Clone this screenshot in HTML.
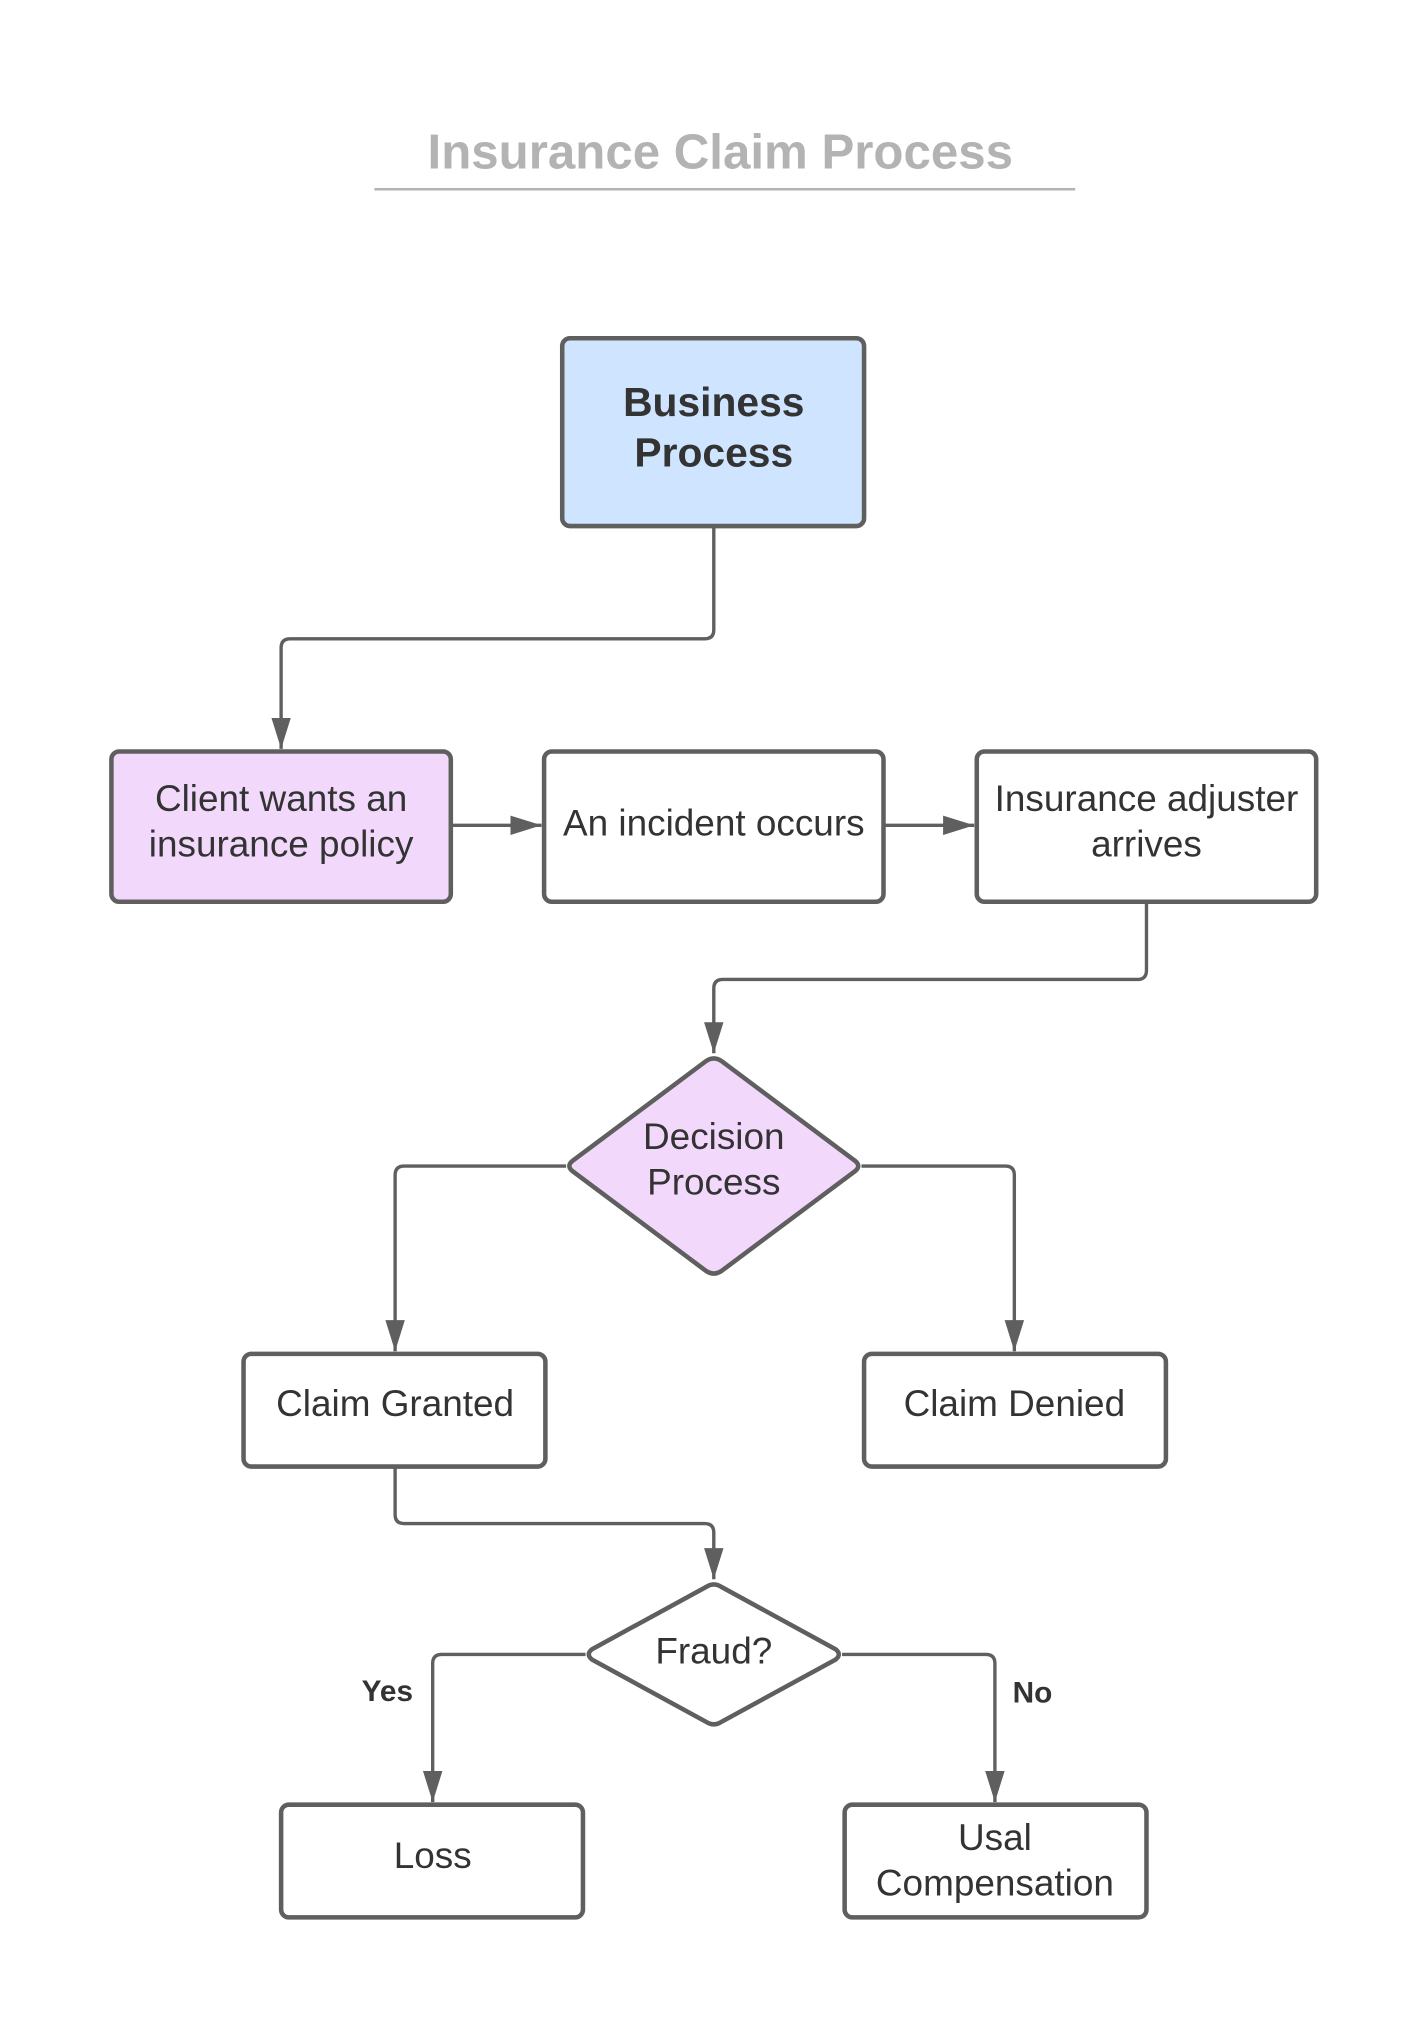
<!DOCTYPE html>
<html><head><meta charset="utf-8"><style>html,body{margin:0;padding:0;background:#fff}svg{display:block}</style></head>
<body>
<svg width="1425" height="2025" viewBox="0 0 1100 1563" xmlns="http://www.w3.org/2000/svg" font-family="Liberation Sans, sans-serif">
<defs>
<marker id="b" viewBox="0 0 10 10" refX="10" refY="5" markerWidth="24" markerHeight="15" orient="auto" markerUnits="userSpaceOnUse" preserveAspectRatio="none"><path d="M0,0L10,5L0,10z" fill="#5f5f5f"/></marker></defs>
<rect width="1100" height="1563" fill="#fff"/>
<text x="556" y="130" text-anchor="middle" font-size="38" font-weight="bold" fill="#b3b3b3">Insurance Claim Process</text>
<line x1="289" y1="146" x2="830" y2="146" stroke="#b3b3b3" stroke-width="2"/>
<g fill="none" stroke="#5f5f5f" stroke-width="2.6">
<path d="M551,406V486Q551,493 544,493H224Q217,493 217,500V578" marker-end="url(#b)"/>
<path d="M348,637H418" marker-end="url(#b)"/>
<path d="M682,637H752" marker-end="url(#b)"/>
<path d="M885,696V749Q885,756 878,756H558Q551,756 551,763V813" marker-end="url(#b)"/>
<path d="M437,900H312Q305,900 305,907V1043" marker-end="url(#b)"/>
<path d="M665,900H776Q783,900 783,907V1043" marker-end="url(#b)"/>
<path d="M305,1132V1169Q305,1176 312,1176H544Q551,1176 551,1183V1219" marker-end="url(#b)"/>
<path d="M452,1277H341Q334,1277 334,1284V1391" marker-end="url(#b)"/>
<path d="M650,1277H761Q768,1277 768,1284V1391" marker-end="url(#b)"/>
</g>
<g stroke="#5f5f5f" stroke-width="3.5">
<rect x="434" y="261" width="233" height="145" rx="6" fill="#cfe4ff"/>
<rect x="86" y="580" width="262" height="116" rx="6" fill="#f2d9fc"/>
<rect x="420" y="580" width="262" height="116" rx="6" fill="#fff"/>
<rect x="754" y="580" width="262" height="116" rx="6" fill="#fff"/>
<path d="M545,819Q551,815 557,819L660,896Q665,900 660,904L557,981Q551,985 545,981L442,904Q437,900 442,896Z" fill="#f2d9fc"/>
<rect x="188" y="1045" width="233" height="87" rx="6" fill="#fff"/>
<rect x="667" y="1045" width="233" height="87" rx="6" fill="#fff"/>
<path d="M545,1225Q551,1221 557,1225L645,1273Q650,1277 645,1281L557,1329Q551,1333 545,1329L457,1281Q452,1277 457,1273Z" fill="#fff"/>
<rect x="217" y="1393" width="233" height="87" rx="6" fill="#fff"/>
<rect x="652" y="1393" width="233" height="87" rx="6" fill="#fff"/>
</g>
<g fill="#333" text-anchor="middle" font-size="28.5">
<text x="551" y="321" font-size="31.5" font-weight="bold">Business</text>
<text x="551" y="360" font-size="31.5" font-weight="bold">Process</text>
<text x="217" y="626">Client wants an</text>
<text x="217" y="661">insurance policy</text>
<text x="551" y="645">An incident occurs</text>
<text x="885" y="626">Insurance adjuster</text>
<text x="885" y="661">arrives</text>
<text x="551" y="887">Decision</text>
<text x="551" y="922">Process</text>
<text x="305" y="1093">Claim Granted</text>
<text x="783" y="1093">Claim Denied</text>
<text x="551" y="1284">Fraud?</text>
<text x="334" y="1442">Loss</text>
<text x="768" y="1428">Usal</text>
<text x="768" y="1463">Compensation</text>
<text x="299" y="1313" font-size="23" font-weight="bold">Yes</text>
<text x="797" y="1314" font-size="23" font-weight="bold">No</text>
</g>
</svg>
</body></html>
